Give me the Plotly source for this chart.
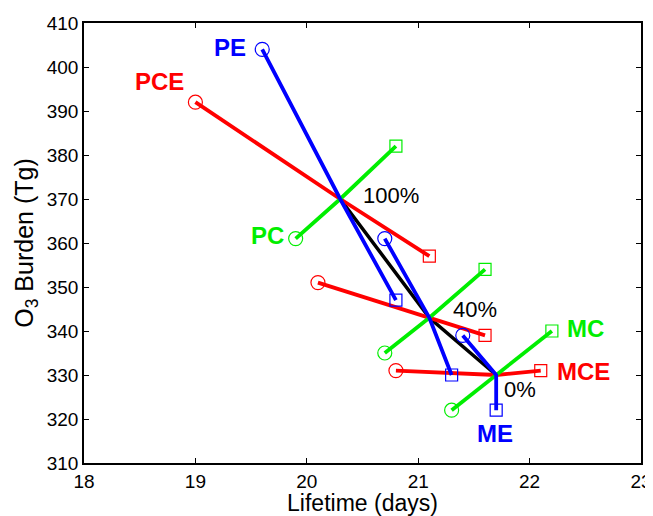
import plotly.graph_objects as go

# Data
levels = ["100%", "40%", "0%"]
center_x = [20.3, 21.1, 21.7]
center_y = [370, 343, 330]

e_circle_x = [19.6, 20.7, 21.4]
e_circle_y = [404, 361, 339]
e_square_x = [20.8, 21.3, 21.7]
e_square_y = [347, 330, 322]

ce_circle_x = [19.0, 20.1, 20.8]
ce_circle_y = [392, 351, 331]
ce_square_x = [21.1, 21.6, 22.1]
ce_square_y = [357, 339, 331]

c_circle_x = [19.9, 20.7, 21.3]
c_circle_y = [361, 335, 322]
c_square_x = [20.8, 21.6, 22.2]
c_square_y = [382, 354, 340]

x_ticks = [18, 19, 20, 21, 22, 23]
y_ticks = [310, 320, 330, 340, 350, 360, 370, 380, 390, 400, 410]

BLUE = "#0000FF"
RED = "#FF0000"
GREEN = "#00EE00"
TICKFONT = "Liberation Sans, Arial, sans-serif"
LABFONT = "Liberation Sans, Arial, sans-serif"

fig = go.Figure()

# black line through centers
fig.add_trace(go.Scatter(x=center_x, y=center_y, mode="lines",
                         line=dict(color="black", width=3.5), showlegend=False, hoverinfo="skip"))

groups = [
    (ce_circle_x, ce_circle_y, ce_square_x, ce_square_y, RED),
    (c_circle_x, c_circle_y, c_square_x, c_square_y, GREEN),
    (e_circle_x, e_circle_y, e_square_x, e_square_y, BLUE),
]

for cx, cy, sx, sy, col in groups:
    for i in range(len(center_x)):
        fig.add_trace(go.Scatter(
            x=[cx[i], center_x[i], sx[i]], y=[cy[i], center_y[i], sy[i]],
            mode="lines", line=dict(color=col, width=3.8), showlegend=False))
    fig.add_trace(go.Scatter(x=cx, y=cy, mode="markers",
                             marker=dict(symbol="circle-open", size=14, color=col, line=dict(width=1.2)),
                             showlegend=False))
    fig.add_trace(go.Scatter(x=sx, y=sy, mode="markers",
                             marker=dict(symbol="square-open", size=12, color=col, line=dict(width=1.2)),
                             showlegend=False))

# scenario labels
labels = [
    ("PE", 19.31, 404.5, BLUE),
    ("PCE", 18.68, 396.6, RED),
    ("PC", 19.65, 361.6, GREEN),
    ("MC", 22.50, 340.5, GREEN),
    ("MCE", 22.48, 330.9, RED),
    ("ME", 21.69, 316.6, BLUE),
]
for t, x, y, col in labels:
    fig.add_annotation(x=x, y=y, text="<b>%s</b>" % t, showarrow=False,
                       font=dict(family=LABFONT, size=24, color=col))

pct_pos = [(20.76, 370.7), (21.51, 345.0), (21.91, 326.6)]
for lev, (x, y) in zip(levels, pct_pos):
    fig.add_annotation(x=x, y=y, text=lev, showarrow=False,
                       font=dict(family=LABFONT, size=22, color="black"))

axis_common = dict(showline=True, linecolor="black", linewidth=1.5, mirror="ticks",
                   ticks="inside", ticklen=5, tickcolor="black", tickwidth=1,
                   showgrid=False, zeroline=False, automargin=False,
                   tickfont=dict(family=TICKFONT, size=19, color="black"))

fig.update_xaxes(range=[18, 23], tickvals=x_ticks,
                 title=dict(text="Lifetime (days)", font=dict(family=TICKFONT, size=23, color="black"), standoff=0),
                 **axis_common)
fig.update_yaxes(range=[310, 410], tickvals=y_ticks,
                 title=dict(text="O<sub>3</sub> Burden (Tg)", font=dict(family=TICKFONT, size=25, color="black"), standoff=6),
                 **axis_common)

# page body has an 8px margin, so the figure is sized/shifted to compensate
fig.update_layout(width=645, height=508, plot_bgcolor="white", paper_bgcolor="white",
                  margin=dict(l=76, r=12, t=15, b=53), showlegend=False)

fig.write_html("out.html")
